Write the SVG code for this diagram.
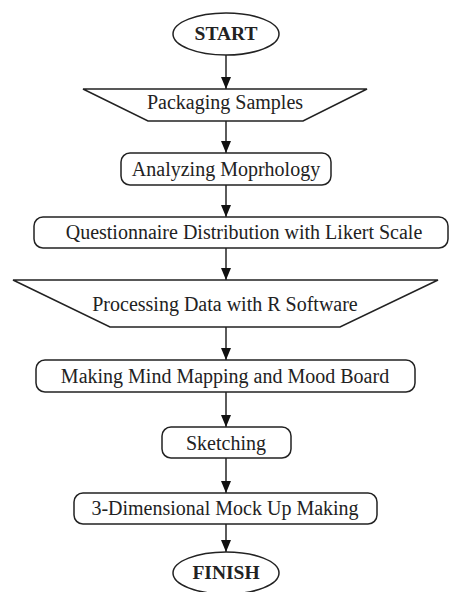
<svg xmlns="http://www.w3.org/2000/svg" width="450" height="592" viewBox="0 0 450 592">
<defs>
<style>
.s{fill:#fff;stroke:#222;stroke-width:1.5}
.t{font-family:"Liberation Serif","Times New Roman",serif;font-size:20px;fill:#222;text-anchor:middle}
.b{font-weight:bold;font-size:19.5px}
.c{stroke:#333;stroke-width:1.6;fill:none;marker-end:url(#ah)}
</style>
<marker id="ah" markerWidth="12" markerHeight="10" refX="12" refY="5" orient="auto" markerUnits="userSpaceOnUse" viewBox="0 0 12 10">
<path d="M0,0 L12,5 L0,10 Z" fill="#111"/>
</marker>
</defs>
<rect width="450" height="592" fill="#fff"/>
<g id="connectors">
<line class="c" x1="226" y1="55" x2="226" y2="89"/>
<line class="c" x1="226" y1="121" x2="226" y2="153"/>
<line class="c" x1="226" y1="185" x2="226" y2="217"/>
<line class="c" x1="226" y1="248" x2="226" y2="280"/>
<line class="c" x1="226" y1="327" x2="226" y2="360"/>
<line class="c" x1="226" y1="392" x2="226" y2="427"/>
<line class="c" x1="226" y1="458" x2="226" y2="493"/>
<line class="c" x1="226" y1="524" x2="226" y2="552"/>
</g>
<g id="start">
<ellipse class="s" cx="226" cy="34" rx="53" ry="21"/>
<text class="t b" x="226" y="40">START</text>
</g>
<g id="packaging">
<polygon class="s" points="83,89 367,89 303,121 148,121"/>
<text class="t" x="225" y="109">Packaging Samples</text>
</g>
<g id="analyzing">
<rect class="s" x="121" y="153" width="210" height="32" rx="9"/>
<text class="t" x="226" y="176">Analyzing Moprhology</text>
</g>
<g id="questionnaire">
<rect class="s" x="34" y="217" width="414" height="31" rx="9"/>
<text class="t" x="244" y="239">Questionnaire Distribution with Likert Scale</text>
</g>
<g id="processing">
<polygon class="s" points="13,280 438,280 340,327 110,327"/>
<text class="t" x="225" y="311">Processing Data with R Software</text>
</g>
<g id="mindmap">
<rect class="s" x="36" y="360" width="379" height="32" rx="9"/>
<text class="t" x="225" y="383">Making Mind Mapping and Mood Board</text>
</g>
<g id="sketching">
<rect class="s" x="162" y="427" width="129" height="31" rx="9"/>
<text class="t" x="226" y="450">Sketching</text>
</g>
<g id="mockup">
<rect class="s" x="74" y="493" width="303" height="31" rx="9"/>
<text class="t" x="225" y="515">3-Dimensional Mock Up Making</text>
</g>
<g id="finish">
<ellipse class="s" cx="226" cy="573" rx="53" ry="21"/>
<text class="t b" x="226" y="579">FINISH</text>
</g>
</svg>
